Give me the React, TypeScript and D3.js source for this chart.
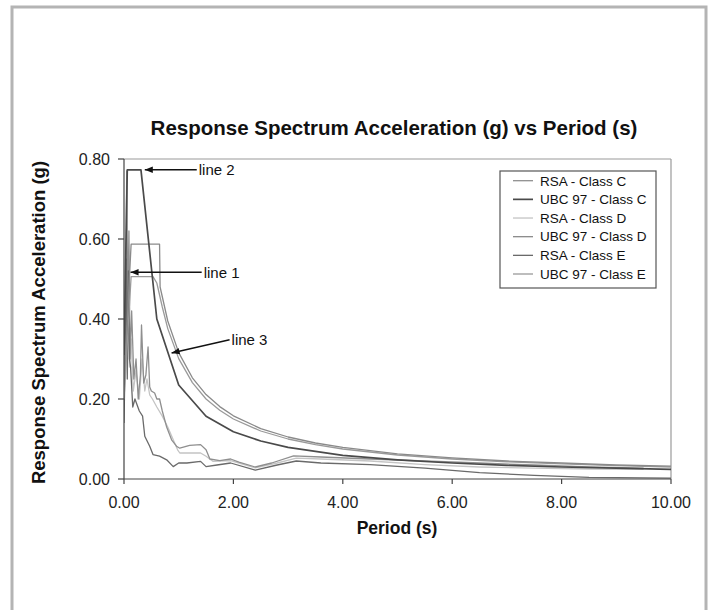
import React from "react";
import * as d3 from "d3";

// ---- data ----
const xTicks = [0, 2, 4, 6, 8, 10];
const yTicks = [0, 0.2, 0.4, 0.6, 0.8];

const rsaCPeriod = [0, 0.03, 0.05, 0.07, 0.09, 0.11, 0.14, 0.18, 0.22, 0.26, 0.3, 0.32, 0.36, 0.4, 0.44, 0.47, 0.5, 0.56, 0.6, 0.65, 0.7, 0.78, 0.87, 0.96, 1.02, 1.2, 1.4, 1.5, 1.57, 1.75, 1.95, 2.1, 2.4, 2.7, 3.1, 3.6, 4.5, 5.5, 6.5, 7.5, 8.5, 9.5];
const rsaCValue = [0.22, 0.45, 0.77, 0.4, 0.62, 0.3, 0.42, 0.25, 0.3, 0.2, 0.26, 0.385, 0.24, 0.26, 0.33, 0.23, 0.22, 0.215, 0.2, 0.2, 0.17, 0.13, 0.098, 0.082, 0.077, 0.084, 0.086, 0.073, 0.05, 0.046, 0.05, 0.042, 0.03, 0.04, 0.058, 0.055, 0.05, 0.045, 0.04, 0.035, 0.03, 0.027];

const rsaDPeriod = [0, 0.02, 0.04, 0.06, 0.08, 0.1, 0.13, 0.17, 0.22, 0.28, 0.33, 0.38, 0.42, 0.47, 0.52, 0.6, 0.7, 0.8, 0.9, 0.98, 1.02, 1.4, 1.5, 1.63, 1.95, 2.4, 2.8, 3.15, 3.6, 4.5, 5.5, 6.5, 7.5, 8.5, 9.5];
const rsaDValue = [0.18, 0.35, 0.6, 0.3, 0.5, 0.28, 0.35, 0.22, 0.27, 0.2, 0.3, 0.22, 0.25, 0.21, 0.2, 0.18, 0.157, 0.13, 0.098, 0.073, 0.065, 0.065, 0.057, 0.044, 0.046, 0.028, 0.04, 0.052, 0.05, 0.045, 0.036, 0.03, 0.027, 0.025, 0.024];

const rsaEPeriod = [0, 0.02, 0.04, 0.06, 0.08, 0.1, 0.12, 0.16, 0.2, 0.28, 0.34, 0.38, 0.47, 0.53, 0.65, 0.78, 0.9, 1.0, 1.15, 1.4, 1.5, 1.7, 1.95, 2.4, 2.8, 3.15, 3.6, 4.5, 5.5, 6.5, 7.5, 8.5, 10];
const rsaEValue = [0.14, 0.3, 0.55, 0.25, 0.52, 0.3, 0.28, 0.18, 0.2, 0.17, 0.157, 0.107, 0.082, 0.061, 0.057, 0.048, 0.031, 0.04, 0.04, 0.044, 0.031, 0.035, 0.04, 0.022, 0.035, 0.045, 0.04, 0.036, 0.027, 0.016, 0.009, 0.004, 0.002];

const ubcCPeriod = [0, 0.06, 0.31, 0.6, 1.0, 1.5, 2.0, 2.5, 3.0, 4.0, 5.0, 6.0, 7.0, 8.0, 9.0, 10.0];
const ubcCValue = [0.31, 0.773, 0.773, 0.4, 0.235, 0.157, 0.118, 0.095, 0.079, 0.059, 0.048, 0.04, 0.034, 0.03, 0.027, 0.024];

const ubcDPeriod = [0, 0.13, 0.65, 0.66, 0.8, 1.0, 1.25, 1.5, 1.75, 2.0, 2.5, 3.0, 3.5, 4.0, 5.0, 6.0, 7.0, 8.0, 9.0, 10.0];
const ubcDValue = [0.235, 0.587, 0.587, 0.48, 0.395, 0.316, 0.253, 0.211, 0.181, 0.158, 0.126, 0.105, 0.09, 0.079, 0.063, 0.053, 0.045, 0.04, 0.035, 0.032];

const ubcEPeriod = [0, 0.13, 0.53, 0.6, 0.7, 0.8, 1.0, 1.25, 1.5, 1.75, 2.0, 2.5, 3.0, 3.5, 4.0, 5.0, 6.0, 7.0, 8.0, 9.0, 10.0];
const ubcEValue = [0.2, 0.506, 0.506, 0.49, 0.43, 0.376, 0.301, 0.241, 0.2, 0.172, 0.15, 0.12, 0.1, 0.086, 0.075, 0.06, 0.05, 0.043, 0.0376, 0.0334, 0.03];

const seriesNames = ["RSA - Class C", "UBC 97 - Class C", "RSA - Class D", "UBC 97 - Class D", "RSA - Class E", "UBC 97 - Class E"];
const seriesPeriods = [rsaCPeriod, ubcCPeriod, rsaDPeriod, ubcDPeriod, rsaEPeriod, ubcEPeriod];
const seriesValues = [rsaCValue, ubcCValue, rsaDValue, ubcDValue, rsaEValue, ubcEValue];
const seriesColors = ["#8f8f8f", "#4a4a4a", "#c4c4c4", "#8a8a8a", "#6a6a6a", "#9a9a9a"];
const seriesWidths = [1.3, 1.7, 1.3, 1.3, 1.3, 1.3];
const drawOrder = [2, 0, 4, 5, 3, 1];

// annotations: label, tip period, tip value, tail period, tail value
const annLabels = ["line 2", "line 1", "line 3"];
const annTip = [[0.38, 0.773], [0.12, 0.517], [0.87, 0.315]];
const annTail = [[1.33, 0.773], [1.42, 0.517], [1.93, 0.348]];

const W = 716, H = 610;
const M = { left: 124, right: 671, top: 159, bottom: 479 };

export default function App() {
  const x = d3.scaleLinear().domain([0, 10]).range([M.left, M.right]);
  const y = d3.scaleLinear().domain([0, 0.8]).range([M.bottom, M.top]);
  const line = d3.line<[number, number]>().x(d => x(d[0])).y(d => y(d[1]));
  const font = "Arial, 'Liberation Sans', Helvetica, sans-serif";

  const arrowHead = (tx: number, ty: number, fx: number, fy: number) => {
    const ang = Math.atan2(ty - fy, tx - fx);
    const L = 8, Wd = 3.2;
    const bx = tx - L * Math.cos(ang), by = ty - L * Math.sin(ang);
    const px = -Math.sin(ang) * Wd, py = Math.cos(ang) * Wd;
    return `M${tx},${ty}L${bx + px},${by + py}L${bx - px},${by - py}Z`;
  };

  return (
    <svg width={W} height={H} style={{ position: "absolute", left: 0, top: 0, background: "#fff" }} fontFamily={font}>
      <rect x={12} y={7} width={694} height={640} fill="#fff" stroke="#b4b4b4" strokeWidth={3} />
      <text x={394} y={135} textAnchor="middle" fontSize={20.5} fontWeight="bold" fill="#111">
        Response Spectrum Acceleration (g) vs Period (s)
      </text>

      {/* plot frame top/right */}
      <line x1={M.left} x2={M.right} y1={M.top} y2={M.top} stroke="#9a9a9a" strokeWidth={1.2} />
      <line x1={M.right} x2={M.right} y1={M.top} y2={M.bottom} stroke="#9a9a9a" strokeWidth={1.2} />

      {/* series */}
      <g clipPath="url(#clip)">
        {drawOrder.map(i => {
          const pts = seriesPeriods[i].map((p, k) => [p, seriesValues[i][k]] as [number, number]);
          return <path key={i} d={line(pts) || ""} fill="none" stroke={seriesColors[i]} strokeWidth={seriesWidths[i]} strokeLinejoin="round" />;
        })}
      </g>
      <defs>
        <clipPath id="clip"><rect x={M.left} y={M.top - 2} width={M.right - M.left + 1} height={M.bottom - M.top + 2} /></clipPath>
      </defs>

      {/* axes */}
      <line x1={M.left} x2={M.left} y1={M.top} y2={M.bottom} stroke="#444" strokeWidth={1.2} />
      <line x1={M.left} x2={M.right} y1={M.bottom} y2={M.bottom} stroke="#444" strokeWidth={1.2} />
      {yTicks.map(t => (
        <g key={"y" + t}>
          <line x1={M.left - 6} x2={M.left} y1={y(t)} y2={y(t)} stroke="#444" strokeWidth={1.2} />
          <text x={110} y={y(t) + 6} textAnchor="end" fontSize={16} fill="#222">{t.toFixed(2)}</text>
        </g>
      ))}
      {xTicks.map(t => (
        <g key={"x" + t}>
          <line x1={x(t)} x2={x(t)} y1={M.bottom} y2={M.bottom + 5} stroke="#444" strokeWidth={1.2} />
          <text x={x(t)} y={508} textAnchor="middle" fontSize={16} fill="#222">{t.toFixed(2)}</text>
        </g>
      ))}
      <text x={397} y={534} textAnchor="middle" fontSize={17.5} fontWeight="bold" fill="#111">Period (s)</text>
      <text transform={`translate(45,322.5) rotate(-90)`} textAnchor="middle" fontSize={18.5} fontWeight="bold" fill="#111">
        Response Spectrum Acceleration (g)
      </text>

      {/* annotations */}
      {annLabels.map((lab, i) => {
        const tx = x(annTip[i][0]), ty = y(annTip[i][1]);
        const fx = x(annTail[i][0]), fy = y(annTail[i][1]);
        return (
          <g key={lab}>
            <line x1={fx} y1={fy} x2={tx} y2={ty} stroke="#111" strokeWidth={1.4} />
            <path d={arrowHead(tx, ty, fx, fy)} fill="#111" />
            <text x={fx + 2} y={fy + 5.5} fontSize={15} fill="#111">{lab}</text>
          </g>
        );
      })}

      {/* legend */}
      <rect x={500} y={171} width={156} height={117} fill="#fff" stroke="#555" strokeWidth={1.2} />
      {seriesNames.map((n, i) => (
        <g key={n}>
          <line x1={513} x2={533} y1={180.7 + i * 18.66} y2={180.7 + i * 18.66} stroke={seriesColors[i]} strokeWidth={seriesWidths[i]} />
          <text x={540} y={180.7 + i * 18.66 + 4.8} fontSize={13.5} fill="#111">{n}</text>
        </g>
      ))}
    </svg>
  );
}
